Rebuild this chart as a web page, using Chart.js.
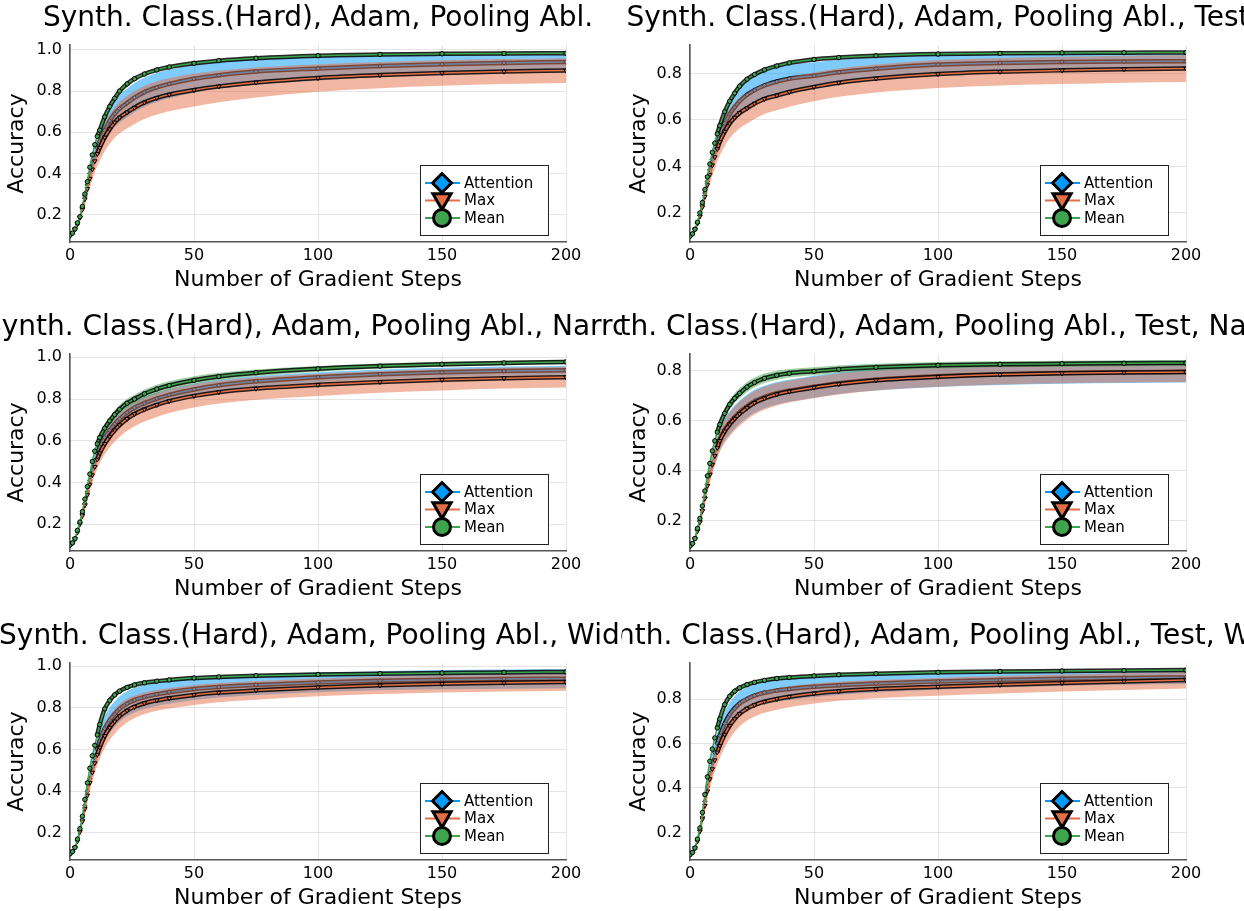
<!DOCTYPE html>
<html>
<head>
<meta charset="utf-8">
<script src="https://cdn.jsdelivr.net/npm/chart.js@4.4.1/dist/chart.umd.min.js"></script>
<style>
  body { margin: 0; background: #fff; }
  #wrap { position: relative; width: 1244px; height: 911px; overflow: hidden; background: #fff; }
  #wrap canvas { position: absolute; }
</style>
</head>
<body>
<div id="wrap"></div>
<script>
const steps = [0,1,2,3,4,5,6,7,8,9,10,11,12,14,16,18,20,23,26,30,35,40,50,60,75,100,125,150,175,200];

const seriesNames = ['Attention', 'Max', 'Mean'];
const xTicks = [0, 50, 100, 150, 200];
const yTicks = [0.2, 0.4, 0.6, 0.8, 1.0];

const panelTitles = [
    'Synth. Class.(Hard), Adam, Pooling Abl.',
    'Synth. Class.(Hard), Adam, Pooling Abl., Test',
    'Synth. Class.(Hard), Adam, Pooling Abl., Narrow',
    'Synth. Class.(Hard), Adam, Pooling Abl., Test, Narrow',
    'Synth. Class.(Hard), Adam, Pooling Abl., Wide',
    'Synth. Class.(Hard), Adam, Pooling Abl., Test, Wide'
];
const yLimits = [[0.067, 1.024], [0.075, 0.922], [0.071, 1.016], [0.080, 0.867], [0.070, 1.015], [0.076, 0.962]];

// Panel 1
const p1Attention = [0.100,0.110,0.130,0.155,0.190,0.235,0.290,0.345,0.400,0.450,0.490,0.525,0.555,0.610,0.655,0.690,0.715,0.742,0.768,0.795,0.818,0.835,0.860,0.877,0.895,0.910,0.922,0.931,0.937,0.941];
const p1Max       = [0.100,0.110,0.130,0.155,0.185,0.225,0.275,0.325,0.375,0.420,0.460,0.495,0.525,0.575,0.615,0.648,0.672,0.697,0.720,0.745,0.767,0.783,0.805,0.823,0.842,0.864,0.878,0.888,0.895,0.900];
const p1Mean      = [0.100,0.110,0.130,0.160,0.190,0.240,0.300,0.360,0.430,0.490,0.540,0.580,0.610,0.675,0.725,0.765,0.800,0.835,0.860,0.883,0.903,0.917,0.935,0.948,0.960,0.972,0.978,0.981,0.983,0.984];
const p1AttentionSd = [0,0.004,0.008,0.012,0.018,0.024,0.030,0.036,0.042,0.047,0.051,0.054,0.056,0.060,0.063,0.066,0.068,0.070,0.071,0.071,0.071,0.070,0.068,0.066,0.063,0.058,0.052,0.046,0.040,0.035];
const p1MaxSd       = [0,0.004,0.008,0.012,0.018,0.024,0.030,0.037,0.044,0.050,0.055,0.059,0.062,0.067,0.071,0.074,0.077,0.079,0.080,0.081,0.081,0.081,0.080,0.077,0.073,0.067,0.064,0.062,0.061,0.060];
const p1MeanSd      = [0,0.002,0.003,0.004,0.005,0.005,0.006,0.006,0.006,0.006,0.006,0.006,0.006,0.006,0.006,0.006,0.006,0.005,0.005,0.005,0.005,0.005,0.004,0.004,0.004,0.004,0.003,0.003,0.003,0.003];

// Panel 2 (Test)
const p2Attention = [0.100,0.110,0.130,0.155,0.190,0.235,0.285,0.335,0.385,0.430,0.470,0.505,0.535,0.585,0.625,0.655,0.680,0.708,0.728,0.748,0.765,0.777,0.790,0.805,0.820,0.838,0.845,0.849,0.851,0.852];
const p2Max       = [0.100,0.110,0.130,0.155,0.185,0.225,0.270,0.320,0.365,0.405,0.440,0.475,0.505,0.550,0.585,0.610,0.630,0.650,0.670,0.690,0.705,0.720,0.742,0.760,0.778,0.797,0.807,0.813,0.818,0.821];
const p2Mean      = [0.100,0.110,0.130,0.160,0.200,0.245,0.300,0.355,0.410,0.460,0.500,0.540,0.575,0.635,0.680,0.715,0.745,0.775,0.795,0.815,0.832,0.845,0.860,0.868,0.876,0.883,0.886,0.888,0.889,0.890];
const p2AttentionSd = [0,0.004,0.008,0.012,0.018,0.024,0.030,0.036,0.042,0.046,0.050,0.053,0.055,0.058,0.060,0.062,0.063,0.064,0.064,0.063,0.062,0.061,0.058,0.054,0.049,0.042,0.037,0.034,0.032,0.030];
const p2MaxSd       = [0,0.004,0.008,0.012,0.016,0.020,0.026,0.032,0.038,0.044,0.050,0.054,0.058,0.062,0.064,0.065,0.066,0.066,0.066,0.065,0.064,0.063,0.062,0.061,0.060,0.060,0.059,0.059,0.058,0.058];
const p2MeanSd      = [0,0.002,0.003,0.004,0.005,0.005,0.006,0.006,0.006,0.006,0.006,0.006,0.006,0.006,0.006,0.006,0.006,0.005,0.005,0.005,0.005,0.005,0.004,0.004,0.004,0.004,0.003,0.003,0.003,0.003];

// Panel 3 (Narrow)
const p3Attention = [0.100,0.110,0.130,0.165,0.205,0.250,0.300,0.355,0.410,0.460,0.505,0.540,0.570,0.615,0.650,0.680,0.705,0.735,0.758,0.780,0.802,0.820,0.846,0.866,0.885,0.905,0.919,0.928,0.934,0.938];
const p3Max       = [0.100,0.110,0.130,0.160,0.200,0.240,0.290,0.340,0.390,0.435,0.475,0.510,0.540,0.585,0.620,0.650,0.675,0.705,0.728,0.750,0.772,0.790,0.815,0.833,0.850,0.868,0.882,0.892,0.900,0.905];
const p3Mean      = [0.100,0.110,0.130,0.170,0.210,0.260,0.320,0.380,0.440,0.500,0.550,0.585,0.615,0.660,0.695,0.725,0.750,0.780,0.800,0.825,0.848,0.865,0.890,0.908,0.926,0.945,0.958,0.967,0.973,0.978];
const p3AttentionSd = [0,0.004,0.008,0.012,0.016,0.020,0.022,0.024,0.026,0.028,0.030,0.030,0.030,0.030,0.030,0.030,0.030,0.030,0.030,0.030,0.029,0.028,0.027,0.026,0.025,0.024,0.023,0.022,0.022,0.022];
const p3MaxSd       = [0,0.004,0.008,0.012,0.016,0.020,0.024,0.028,0.032,0.036,0.040,0.044,0.047,0.050,0.053,0.055,0.056,0.057,0.058,0.058,0.058,0.057,0.056,0.055,0.054,0.053,0.052,0.051,0.050,0.050];
const p3MeanSd      = [0,0.003,0.005,0.007,0.009,0.011,0.013,0.015,0.016,0.017,0.018,0.019,0.019,0.020,0.021,0.021,0.021,0.021,0.021,0.021,0.021,0.020,0.019,0.018,0.016,0.014,0.013,0.012,0.011,0.010];

// Panel 4 (Test, Narrow)
const p4Attention = [0.100,0.110,0.130,0.165,0.200,0.245,0.295,0.345,0.390,0.430,0.465,0.497,0.527,0.565,0.592,0.615,0.635,0.658,0.678,0.695,0.710,0.720,0.736,0.750,0.764,0.778,0.786,0.791,0.794,0.796];
const p4Max       = [0.100,0.110,0.130,0.160,0.195,0.240,0.290,0.340,0.385,0.425,0.460,0.492,0.520,0.558,0.586,0.609,0.628,0.652,0.672,0.690,0.706,0.717,0.733,0.747,0.762,0.776,0.785,0.790,0.793,0.795];
const p4Mean      = [0.100,0.110,0.130,0.170,0.210,0.260,0.320,0.380,0.430,0.480,0.520,0.555,0.585,0.630,0.665,0.690,0.710,0.735,0.753,0.770,0.782,0.790,0.798,0.806,0.814,0.822,0.826,0.828,0.830,0.831];
const p4AttentionSd = [0,0.004,0.008,0.012,0.016,0.020,0.024,0.028,0.032,0.036,0.040,0.042,0.044,0.045,0.046,0.046,0.046,0.046,0.046,0.045,0.045,0.044,0.044,0.043,0.043,0.043,0.043,0.043,0.043,0.043];
const p4MaxSd       = [0,0.004,0.008,0.012,0.016,0.020,0.024,0.028,0.032,0.036,0.040,0.043,0.045,0.047,0.048,0.048,0.048,0.048,0.047,0.046,0.045,0.044,0.043,0.042,0.041,0.040,0.040,0.040,0.040,0.040];
const p4MeanSd      = [0,0.003,0.005,0.007,0.009,0.010,0.012,0.013,0.014,0.015,0.016,0.017,0.018,0.019,0.020,0.020,0.020,0.020,0.020,0.019,0.018,0.017,0.016,0.015,0.014,0.013,0.012,0.012,0.012,0.012];

// Panel 5 (Wide)
const p5Attention = [0.100,0.110,0.130,0.165,0.210,0.265,0.330,0.400,0.460,0.515,0.560,0.600,0.640,0.700,0.740,0.770,0.795,0.820,0.837,0.852,0.865,0.875,0.890,0.900,0.910,0.922,0.930,0.935,0.938,0.940];
const p5Max       = [0.100,0.110,0.130,0.160,0.205,0.255,0.315,0.380,0.440,0.490,0.535,0.575,0.610,0.665,0.705,0.735,0.760,0.787,0.805,0.822,0.836,0.846,0.862,0.873,0.884,0.898,0.908,0.915,0.920,0.924];
const p5Mean      = [0.100,0.110,0.130,0.170,0.220,0.280,0.360,0.440,0.510,0.570,0.620,0.670,0.720,0.795,0.835,0.862,0.880,0.898,0.910,0.920,0.928,0.934,0.943,0.948,0.954,0.960,0.964,0.967,0.970,0.972];
const p5AttentionSd = [0,0.004,0.008,0.012,0.016,0.020,0.026,0.032,0.038,0.044,0.050,0.054,0.057,0.060,0.061,0.061,0.061,0.060,0.059,0.058,0.056,0.055,0.053,0.051,0.049,0.047,0.046,0.046,0.046,0.046];
const p5MaxSd       = [0,0.004,0.008,0.012,0.016,0.020,0.026,0.032,0.038,0.043,0.048,0.052,0.055,0.058,0.059,0.059,0.058,0.056,0.054,0.052,0.050,0.049,0.048,0.046,0.045,0.043,0.042,0.042,0.042,0.042];
const p5MeanSd      = [0,0.002,0.003,0.004,0.005,0.005,0.006,0.006,0.006,0.006,0.006,0.006,0.006,0.006,0.006,0.006,0.006,0.005,0.005,0.005,0.005,0.005,0.004,0.004,0.004,0.004,0.003,0.003,0.003,0.003];

// Panel 6 (Test, Wide)
const p6Attention = [0.100,0.110,0.130,0.165,0.210,0.270,0.340,0.405,0.465,0.515,0.560,0.600,0.635,0.690,0.730,0.758,0.780,0.800,0.815,0.828,0.838,0.845,0.855,0.862,0.870,0.879,0.886,0.891,0.895,0.897];
const p6Max       = [0.100,0.110,0.130,0.160,0.205,0.260,0.320,0.385,0.440,0.485,0.525,0.560,0.590,0.640,0.680,0.710,0.733,0.757,0.773,0.788,0.800,0.810,0.825,0.835,0.845,0.855,0.864,0.872,0.879,0.885];
const p6Mean      = [0.100,0.110,0.130,0.170,0.220,0.290,0.370,0.450,0.520,0.575,0.625,0.670,0.710,0.775,0.812,0.835,0.850,0.865,0.875,0.884,0.892,0.897,0.904,0.909,0.914,0.920,0.924,0.926,0.928,0.930];
const p6AttentionSd = [0,0.004,0.008,0.012,0.018,0.024,0.030,0.036,0.041,0.045,0.048,0.050,0.052,0.054,0.055,0.055,0.055,0.054,0.053,0.052,0.050,0.049,0.047,0.044,0.041,0.037,0.034,0.032,0.031,0.030];
const p6MaxSd       = [0,0.004,0.008,0.012,0.018,0.024,0.030,0.036,0.042,0.047,0.051,0.054,0.056,0.058,0.058,0.057,0.056,0.054,0.052,0.050,0.048,0.047,0.045,0.043,0.041,0.040,0.039,0.038,0.038,0.038];
const p6MeanSd      = [0,0.002,0.003,0.004,0.005,0.005,0.006,0.006,0.006,0.006,0.006,0.006,0.006,0.006,0.006,0.006,0.006,0.005,0.005,0.005,0.005,0.005,0.004,0.004,0.004,0.004,0.003,0.003,0.003,0.003];

const panelMeans = [
    [p1Attention, p1Max, p1Mean], [p2Attention, p2Max, p2Mean],
    [p3Attention, p3Max, p3Mean], [p4Attention, p4Max, p4Mean],
    [p5Attention, p5Max, p5Mean], [p6Attention, p6Max, p6Mean]
];
const panelSds = [
    [p1AttentionSd, p1MaxSd, p1MeanSd], [p2AttentionSd, p2MaxSd, p2MeanSd],
    [p3AttentionSd, p3MaxSd, p3MeanSd], [p4AttentionSd, p4MaxSd, p4MeanSd],
    [p5AttentionSd, p5MaxSd, p5MeanSd], [p6AttentionSd, p6MaxSd, p6MeanSd]
];

// Plots.jl default palette
const colors = ['#009AFA', '#E36F47', '#3EA44E'];
const ribbonColors = ['rgba(0,154,250,0.5)', 'rgba(227,111,71,0.5)', 'rgba(62,164,78,0.5)'];
const markerStyles = ['rectRot', 'triangle', 'circle'];
const markerRotation = [0, 180, 0];
const FONT = 'DejaVu Sans';

Chart.defaults.font.family = FONT;
Chart.defaults.color = '#000';

// Title centred over the plot area, clipped by the canvas like the original subplots
const panelTitle = {
    id: 'panelTitle',
    afterDraw(chart, args, opts) {
        const { ctx, chartArea } = chart;
        ctx.save();
        ctx.font = '28px "' + FONT + '"';
        ctx.fillStyle = '#000';
        ctx.textAlign = 'center';
        ctx.textBaseline = 'middle';
        ctx.fillText(opts.text, (chartArea.left + chartArea.right) / 2, 19);
        ctx.restore();
    }
};

// Legend box in the lower right corner of the plot area
const insideLegend = {
    id: 'insideLegend',
    afterDatasetsDraw(chart) {
        const { ctx, chartArea } = chart;
        const w = 128, h = 70;
        const left = chartArea.right - 18 - w;
        const top = chartArea.bottom - 7 - h;
        ctx.save();
        ctx.fillStyle = '#fff';
        ctx.fillRect(left, top, w, h);
        ctx.strokeStyle = '#222';
        ctx.lineWidth = 1;
        ctx.strokeRect(left + 0.5, top + 0.5, w, h);
        seriesNames.forEach((name, i) => {
            const y = top + 18 + i * 17.5;
            ctx.strokeStyle = colors[i];
            ctx.lineWidth = 2;
            ctx.beginPath();
            ctx.moveTo(left + 5, y);
            ctx.lineTo(left + 40, y);
            ctx.stroke();
            ctx.fillStyle = colors[i];
            ctx.strokeStyle = '#000';
            ctx.lineWidth = 3;
            const r = i === 0 ? 9.5 : (i === 1 ? 10.5 : 8.5);
            Chart.helpers.drawPoint(ctx, {
                pointStyle: markerStyles[i], radius: r, rotation: markerRotation[i], borderWidth: 3
            }, left + 22, i === 1 ? y - 1.5 : y);
            ctx.fillStyle = '#000';
            ctx.font = '15px "' + FONT + '"';
            ctx.textAlign = 'left';
            ctx.textBaseline = 'middle';
            ctx.fillText(name, left + 44, y + 1);
        });
        ctx.restore();
    }
};

function buildDatasets(means, sds) {
    const sets = [];
    means.forEach((mean, s) => {
        const lower = steps.map((x, i) => ({ x: x, y: mean[i] - sds[s][i] }));
        const upper = steps.map((x, i) => ({ x: x, y: mean[i] + sds[s][i] }));
        const line = steps.map((x, i) => ({ x: x, y: mean[i] }));
        // ribbon
        sets.push({ data: lower, borderColor: 'rgba(0,0,0,0)', borderWidth: 0, pointRadius: 0, fill: false });
        sets.push({ data: upper, borderColor: 'rgba(0,0,0,0)', borderWidth: 0, pointRadius: 0,
            fill: '-1', backgroundColor: ribbonColors[s] });
        // dark band left by the dense black-edged markers
        sets.push({ data: line, borderWidth: 4.5, pointRadius: 0, fill: false,
            segment: { borderColor: c => steps[c.p0DataIndex] < 11 ? 'rgba(0,0,0,0)' : 'rgba(0,0,0,0.85)' } });
        // mean line with markers
        sets.push({
            label: seriesNames[s], data: line, borderColor: colors[s], borderWidth: 1.5, fill: false,
            pointStyle: markerStyles[s], pointRotation: markerRotation[s],
            pointRadius: s === 1 ? 2.6 : 2.2, pointBackgroundColor: colors[s],
            pointBorderColor: '#000', pointBorderWidth: 1
        });
    });
    sets.forEach((d, i) => {
        d.order = sets.length - i;
        d.cubicInterpolationMode = 'monotone';
    });
    return sets;
}

const wrap = document.getElementById('wrap');
const rowTops = [0, 309, 618];

panelTitles.forEach((title, p) => {
    const col = p % 2, row = Math.floor(p / 2);
    const canvas = document.createElement('canvas');
    canvas.width = 622;
    canvas.height = 293;
    canvas.style.left = (col * 622) + 'px';
    canvas.style.top = rowTops[row] + 'px';
    wrap.appendChild(canvas);

    const [yMin, yMax] = yLimits[p];
    new Chart(canvas.getContext('2d'), {
        type: 'line',
        data: { datasets: buildDatasets(panelMeans[p], panelSds[p]) },
        options: {
            responsive: false,
            animation: false,
            devicePixelRatio: 1,
            layout: { padding: { left: 0, right: col ? 58 : 56, top: 45, bottom: 0 } },
            plugins: {
                legend: { display: false },
                tooltip: { enabled: false },
                panelTitle: { text: title }
            },
            scales: {
                x: {
                    type: 'linear', min: 0, max: 200,
                    afterBuildTicks: a => { a.ticks = xTicks.map(v => ({ value: v })); },
                    afterFit: a => { a.height = 51; },
                    ticks: { color: '#000', font: { size: 16 }, padding: 4, maxRotation: 0 },
                    grid: { color: 'rgba(0,0,0,0.1)', drawTicks: false },
                    border: { display: true, color: '#555', width: 1.6 },
                    title: { display: true, text: 'Number of Gradient Steps', color: '#000',
                        font: { size: 22 }, padding: 0 }
                },
                y: {
                    type: 'linear', min: yMin, max: yMax,
                    afterBuildTicks: a => { a.ticks = yTicks.filter(v => v <= yMax).map(v => ({ value: v })); },
                    afterFit: a => { a.width = col ? 68 : 70; },
                    ticks: { color: '#000', font: { size: 16 }, padding: 8, callback: v => v.toFixed(1) },
                    grid: { color: 'rgba(0,0,0,0.1)', drawTicks: false },
                    border: { display: true, color: '#555', width: 1.6 },
                    title: { display: true, text: 'Accuracy', color: '#000',
                        font: { size: 22 }, padding: { top: 4, bottom: 0 } }
                }
            }
        },
        plugins: [panelTitle, insideLegend]
    });
});
</script>
</body>
</html>
